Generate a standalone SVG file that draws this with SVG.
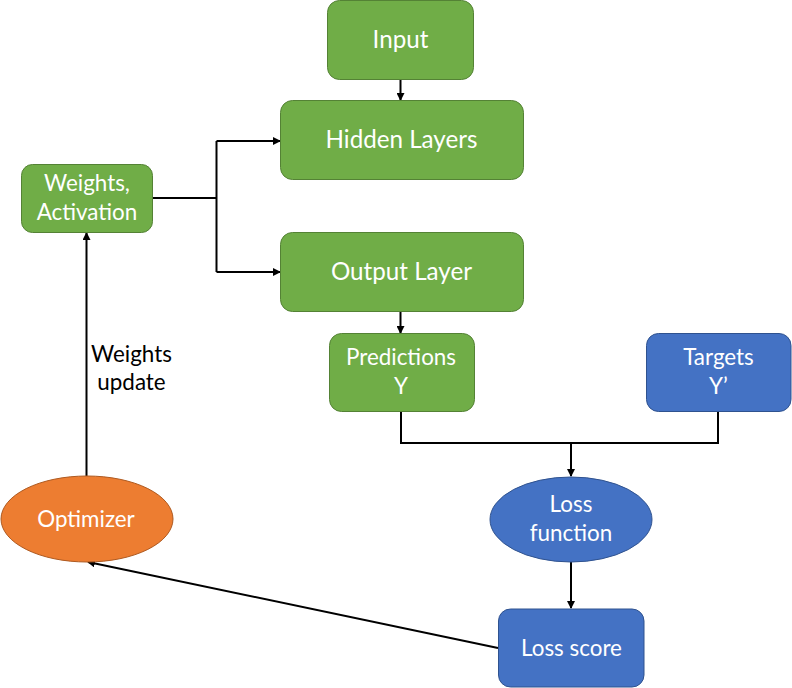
<svg xmlns="http://www.w3.org/2000/svg" width="792" height="688" viewBox="0 0 792 688">
<style>
.g{fill:#70AD47;stroke:#548235;stroke-width:1}
.b{fill:#4472C4;stroke:#2F528F;stroke-width:1}
.o{fill:#ED7D31;stroke:#AE5A21;stroke-width:1}
text{font-family:Lato,"Open Sans","Liberation Sans",sans-serif;text-anchor:middle}
.w{fill:#FFFFFF}
.L{font-size:24.2px}
.s{font-size:22.4px}
.k{fill:#000000;font-size:22.4px}
.c{fill:none;stroke:#000000;stroke-width:2}
</style>
<defs>
<marker id="ah" markerWidth="8" markerHeight="8" refX="7" refY="4" orient="auto" markerUnits="userSpaceOnUse">
<path d="M0,0 L8,4 L0,8 z" fill="#000000"/>
</marker>
</defs>
<rect width="792" height="688" fill="#FFFFFF"/>
<g id="connectors">
<path class="c" d="M400.5,79 V100" marker-end="url(#ah)"/>
<path class="c" d="M153,198 H216.5"/>
<path class="c" d="M216.5,141 V272"/>
<path class="c" d="M216.5,141 H280" marker-end="url(#ah)"/>
<path class="c" d="M216.5,272 H280" marker-end="url(#ah)"/>
<path class="c" d="M400.5,311 V333" marker-end="url(#ah)"/>
<path class="c" d="M401,411 V443 H718 V411"/>
<path class="c" d="M571,443 V476" marker-end="url(#ah)"/>
<path class="c" d="M571,562 V608" marker-end="url(#ah)"/>
<path class="c" d="M498,648 L88,562" marker-end="url(#ah)"/>
<path class="c" d="M86.5,476 V233" marker-end="url(#ah)"/>
</g>
<g id="input">
<rect class="g" x="327.5" y="0.5" width="146" height="79" rx="12"/>
<text class="w L" x="400.5" y="48">Input</text>
</g>
<g id="hidden-layers">
<rect class="g" x="280.5" y="100.5" width="243" height="79" rx="12"/>
<text class="w L" x="401.5" y="148">Hidden Layers</text>
</g>
<g id="output-layer">
<rect class="g" x="280.5" y="232.5" width="243" height="79" rx="12"/>
<text class="w L" x="401.5" y="280">Output Layer</text>
</g>
<g id="weights-activation">
<rect class="g" x="21.5" y="164.5" width="131" height="68" rx="11"/>
<text class="w s" x="87" y="191">Weights,</text>
<text class="w s" x="87" y="220">Activation</text>
</g>
<g id="predictions">
<rect class="g" x="329.5" y="333.5" width="145" height="78" rx="12"/>
<text class="w s" x="401" y="365">Predictions</text>
<text class="w s" x="401" y="394">Y</text>
</g>
<g id="targets">
<rect class="b" x="646.5" y="333.5" width="144.5" height="78" rx="12"/>
<text class="w s" x="718.5" y="365">Targets</text>
<text class="w s" x="718.5" y="394">Y’</text>
</g>
<g id="loss-function">
<ellipse class="b" cx="571" cy="519.5" rx="81" ry="42.5"/>
<text class="w s" x="571" y="512">Loss</text>
<text class="w s" x="571" y="541">function</text>
</g>
<g id="loss-score">
<rect class="b" x="498.5" y="609" width="145.5" height="78" rx="12"/>
<text class="w s" x="571.5" y="656">Loss score</text>
</g>
<g id="optimizer">
<ellipse class="o" cx="87" cy="519" rx="86" ry="43"/>
<text class="w s" x="86" y="527">Optimizer</text>
</g>
<g id="weights-update-label">
<text class="k" x="131.5" y="362">Weights</text>
<text class="k" x="131.5" y="390">update</text>
</g>
</svg>
